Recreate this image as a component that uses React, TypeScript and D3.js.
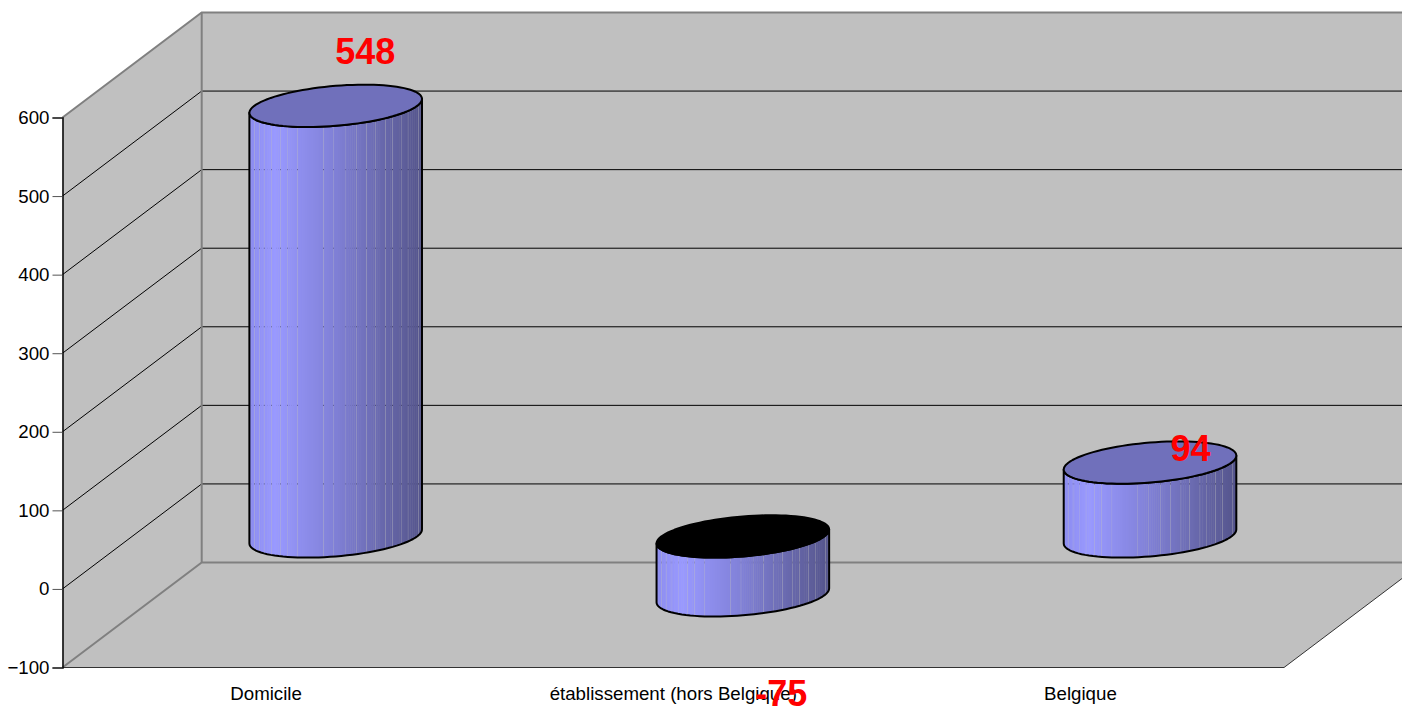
import React, { useEffect, useRef } from 'react';
import * as d3 from 'd3';

const categories = ['Domicile', 'établissement (hors Belgique)', 'Belgique'];
const values = [548, -75, 94];
const yTicks = [-100, 0, 100, 200, 300, 400, 500, 600];

// where the chart's data labels ended up relative to the bar end
const labelDx = [29.5, 38.5, 40.5];
const labelDy = [-41.8, 111, -2];

// seams between the facets of the cylinder, as a fraction of its width
const seams = [0, 0.03, 0.06, 0.09, 0.13, 0.18, 0.22, 0.28, 0.43, 0.49, 0.56, 0.62, 0.68, 0.73, 0.79, 0.83, 0.88, 0.92, 0.98, 1];

const WIDTH = 1402;
const HEIGHT = 709;

export default function App() {
  const svgRef = useRef<SVGSVGElement | null>(null);

  useEffect(() => {
    const svg = d3.select(svgRef.current);
    svg.selectAll('*').remove();

    const left = 62.5;
    const right = 1284;
    const depthX = 139.2;
    const depthY = 105;
    const font = '"Liberation Sans", Arial, sans-serif';

    // front plane of the 3D box; the back plane is the same shifted by depth
    const yFront = d3.scaleLinear().domain([-100, 600]).range([667.5, 117.5]);
    const yBack = (v: number) => yFront(v) - depthY;
    const yMid = (v: number) => yFront(v) - depthY / 2;
    const x = d3.scaleBand().domain(categories).range([left, right]);

    const wallFill = '#c0c0c0';
    const edge = '#808080';
    const poly = (pts: [number, number][]) => d3.line()(pts) + 'Z';

    const bx = left + depthX;
    const brx = right + depthX;

    // walls and floor
    svg.append('path')
      .attr('d', poly([[bx, yBack(600)], [brx, yBack(600)], [brx, yBack(-100)], [bx, yBack(-100)]]))
      .attr('fill', wallFill);
    svg.append('path')
      .attr('d', poly([[left, yFront(600)], [bx, yBack(600)], [bx, yBack(-100)], [left, yFront(-100)]]))
      .attr('fill', wallFill);
    svg.append('path')
      .attr('d', poly([[left, yFront(-100)], [right, yFront(-100)], [brx, yBack(-100)], [bx, yBack(-100)]]))
      .attr('fill', wallFill);

    // grid lines on left and back walls
    yTicks.filter(t => t > -100 && t < 600).forEach(t => {
      svg.append('path')
        .attr('d', d3.line()([[left, yFront(t)], [bx, yBack(t)], [brx, yBack(t)]]))
        .attr('fill', 'none')
        .attr('stroke', '#000')
        .attr('stroke-width', 1);
    });

    // box edges
    const edgeLine = (pts: [number, number][], color: string, w: number) =>
      svg.append('path').attr('d', d3.line()(pts)).attr('fill', 'none').attr('stroke', color).attr('stroke-width', w);

    edgeLine([[left, yFront(600)], [bx, yBack(600)], [brx, yBack(600)]], edge, 2);
    edgeLine([[bx, yBack(600)], [bx, yBack(-100)]], edge, 2);
    edgeLine([[left, yFront(-100)], [bx, yBack(-100)], [brx, yBack(-100)]], edge, 2);
    edgeLine([[left, yFront(-100)], [right, yFront(-100)], [brx, yBack(-100)]], '#333', 1);

    // y axis
    const axis = svg.append('g')
      .attr('transform', `translate(${left},0)`)
      .call(d3.axisLeft(yFront).tickValues(yTicks).tickSize(10).tickPadding(3).tickFormat(d3.format('d')) as any);
    axis.select('.domain').attr('stroke', '#000').attr('stroke-width', 1.5);
    axis.selectAll('.tick line').attr('stroke', '#555').attr('stroke-width', 1);
    axis.selectAll('.tick text')
      .attr('fill', '#000')
      .attr('font-family', font)
      .attr('font-size', 18.7);

    // category labels
    categories.forEach(c => {
      svg.append('text')
        .attr('x', x(c)! + x.bandwidth() / 2)
        .attr('y', 700)
        .attr('text-anchor', 'middle')
        .attr('font-family', font)
        .attr('font-size', 18.7)
        .attr('fill', '#000')
        .text(c);
    });

    // cylinders
    const a = 86.3;
    const b = 20;
    const skew = 7;
    const shade = d3.scaleLinear<string>()
      .domain([0, 0.15, 0.5, 0.8, 1])
      .range(['#8c8cf0', '#9999ff', '#8080d6', '#6666a8', '#55558c']);
    const defs = svg.append('defs');

    // point on the skewed ellipse of the cylinder cap
    const capPt = (cx: number, cy: number, t: number): [number, number] =>
      [cx + a * Math.cos(t), cy - skew * Math.cos(t) + b * Math.sin(t)];
    const angles = d3.range(0, 49).map(i => (i / 48) * Math.PI);

    values.forEach((v, i) => {
      const cx = x(categories[i])! + x.bandwidth() / 2 + depthX / 2;
      const yTop = yMid(Math.max(v, 0));
      const yBottom = yMid(Math.min(v, 0));

      const front = [
        capPt(cx, yTop, Math.PI),
        ...angles.slice().reverse().map(t => capPt(cx, yBottom, t)),
        ...angles.map(t => capPt(cx, yTop, t)),
      ];
      const sidePath = poly(front);

      defs.append('clipPath').attr('id', `side${i}`).append('path').attr('d', sidePath);

      const g = svg.append('g');
      const facets = g.append('g').attr('clip-path', `url(#side${i})`);
      const fx = d3.scaleLinear().domain([0, 1]).range([cx - a, cx + a]);
      seams.slice(0, -1).forEach((s, k) => {
        const next = seams[k + 1];
        const n = Math.max(1, Math.round((fx(next) - fx(s)) / 2));
        // each facet keeps a hair of gap so the wall shows through at the seam
        d3.range(n).forEach(j => {
          const f0 = s + ((next - s) * j) / n;
          const f1 = s + ((next - s) * (j + 1)) / n;
          facets.append('rect')
            .attr('x', fx(f0))
            .attr('y', yBack(600))
            .attr('width', fx(f1) - fx(f0) + (j === n - 1 ? -0.25 : 0.4))
            .attr('height', 660)
            .attr('fill', shade((f0 + f1) / 2));
        });
      });

      g.append('path')
        .attr('d', sidePath)
        .attr('fill', 'none')
        .attr('stroke', '#000')
        .attr('stroke-width', 2)
        .attr('stroke-linejoin', 'round');

      const cap = [...angles, ...angles.map(t => t + Math.PI)].map(t => capPt(cx, yTop, t));
      g.append('path')
        .attr('d', poly(cap))
        .attr('fill', v < 0 ? '#000' : '#7070bb')
        .attr('stroke', '#000')
        .attr('stroke-width', 2)
        .attr('stroke-linejoin', 'round');
    });

    // data labels go on top of everything
    values.forEach((v, i) => {
      const cx = x(categories[i])! + x.bandwidth() / 2 + depthX / 2;
      svg.append('text')
        .attr('x', cx + labelDx[i])
        .attr('y', yMid(v) + labelDy[i])
        .attr('text-anchor', 'middle')
        .attr('font-family', font)
        .attr('font-size', 36)
        .attr('font-weight', 'bold')
        .attr('fill', '#ff0000')
        .text(v);
    });
  }, []);

  return (
    <svg
      ref={svgRef}
      width={WIDTH}
      height={HEIGHT}
      style={{ position: 'absolute', top: 0, left: 0, display: 'block', background: '#fff' }}
    />
  );
}
